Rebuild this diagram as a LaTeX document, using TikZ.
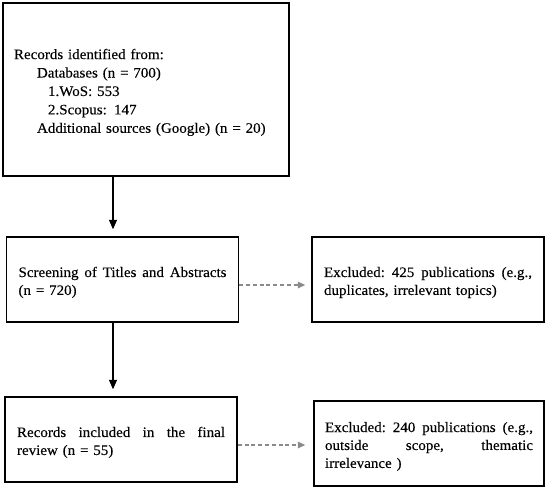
\documentclass[tikz,border=0pt]{standalone}
\usepackage{fontspec}
\setmainfont{Liberation Serif}[FakeStretch=1.04,FakeBold=0.2]
\usetikzlibrary{arrows.meta}
\definecolor{dgray}{HTML}{8A8A8A}
\newcommand{\jline}[1]{\leavevmode\makebox[208bp][s]{#1}}
\begin{document}
\begin{tikzpicture}[x=1bp,y=-1bp,
  box/.style={draw, line width=1.4bp, inner xsep=12bp, inner ysep=0pt,
    text width=208bp, minimum height=85bp, align=left,
    font=\fontsize{14.5}{18}\selectfont,
    execute at begin node={\leavevmode\rule{0pt}{16bp}}},
  arr/.style={line width=1.3bp, -{Triangle[width=8bp,length=9.5bp]}},
  darr/.style={draw=dgray, line width=1.4bp, dash pattern=on 4bp off 2.8bp,
    -{Triangle[width=6.5bp,length=7.5bp,fill=dgray]}}]
\useasboundingbox (0,0) rectangle (550,490);

\node[box, text width=264bp, inner xsep=11bp, minimum height=173bp,
  font=\fontsize{14.5}{18.5}\selectfont] (rec) at (146,89.5)
  {Records identified from:\\
   \hspace*{23bp}Databases (n = 700)\\
   \hspace*{34bp}1.WoS: 553\\
   \hspace*{34bp}2.Scopus: 147\\
   \hspace*{23bp}Additional sources (Google) (n = 20)};

\node[box] (scr) at (122.5,279.5)
  {\jline{Screening\hfill of\hfill Titles\hfill and\hfill Abstracts}\\(n = 720)};
\node[box] (exa) at (428,279.5)
  {\jline{Excluded:\hfill 425\hfill publications\hfill (e.g.,}\\duplicates, irrelevant topics)};
\node[box] (inc) at (121,439.5)
  {\jline{Records\hfill included\hfill in\hfill the\hfill final}\\review (n = 55)};
\node[box, inner xsep=11bp] (exb) at (429,443.5)
  {\jline{Excluded:\hfill 240\hfill publications\hfill (e.g.,}\\\jline{outside\hfill scope,\hfill thematic}\\irrelevance )};

\coordinate (ax) at (113,0);
\coordinate (d1) at (0,285);
\coordinate (d2) at (0,445);

\draw[arr, shorten >=7bp] (rec.south -| ax) -- (scr.north -| ax);
\draw[arr, shorten >=7bp] (scr.south -| ax) -- (inc.north -| ax);
\draw[darr, shorten >=6bp] (scr.east |- d1) -- (exa.west |- d1);
\draw[darr, shorten >=8bp] (inc.east |- d2) -- (exb.west |- d2);
\end{tikzpicture}
\end{document}
